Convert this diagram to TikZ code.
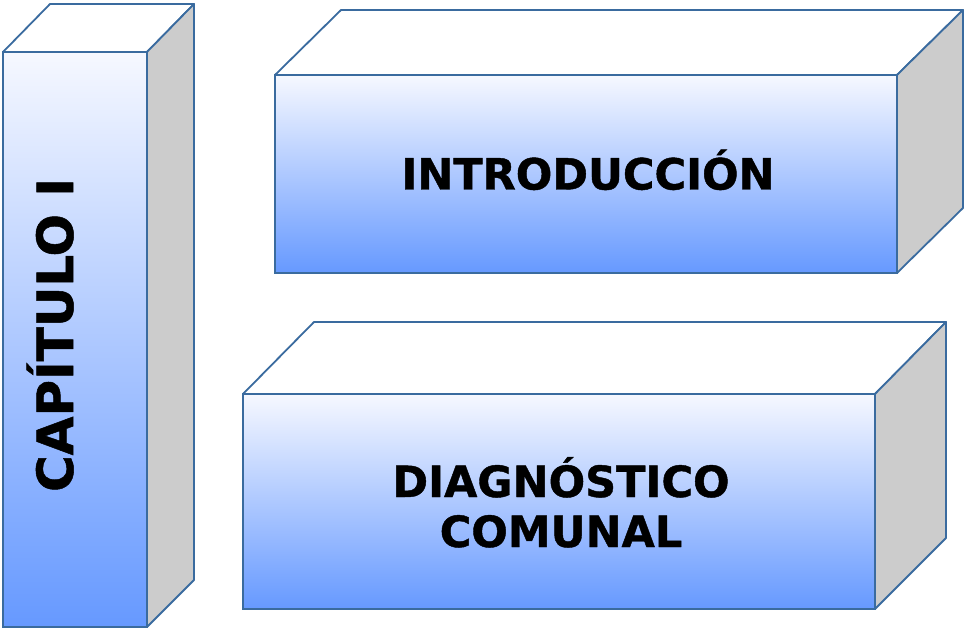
\documentclass[tikz,border=0pt]{standalone}
\usepackage{fontspec}
\setmainfont[BoldFeatures={FakeBold=1}]{DejaVu Sans}
\definecolor{edgec}{HTML}{3A6B9F}
\definecolor{topc}{HTML}{F6F8FF}
\definecolor{midc}{HTML}{C2D2FF}
\definecolor{botc}{HTML}{6699FF}
\definecolor{sidec}{HTML}{CCCCCC}
\tikzset{
  front/.style={draw=edgec, line width=1.8pt, top color=topc, middle color=midc, bottom color=botc, inner sep=0pt, outer sep=0pt},
  topface/.style={draw=edgec, line width=1.8pt, fill=white, line join=round},
  sideface/.style={draw=edgec, line width=1.8pt, fill=sidec, line join=round},
  label/.style={font=\fontsize{43}{52}\selectfont\bfseries, align=center, text=black, inner sep=0pt},
  biglabel/.style={font=\fontsize{50}{52}\selectfont\bfseries, text=black, inner sep=0pt}
}
\begin{document}
\begin{tikzpicture}[x=1pt,y=-1pt]
\useasboundingbox (0,0) rectangle (964,628);
% box 1
\node[front, minimum width=144pt, minimum height=575pt] (f1) at (75,339.5) {};
\draw[topface] (f1.north west) -- ++(47,-48) -- ++(144,0) -- (f1.north east) -- cycle;
\draw[sideface] (f1.north east) -- ++(47,-48) -- ++(0,576) -- (f1.south east) -- cycle;
\node[biglabel, rotate=90, anchor=base] (t1) at (73,335) {CAPÍTULO I};
% box 2
\node[front, minimum width=622pt, minimum height=198pt] (f2) at (586,174) {};
\draw[topface] (f2.north west) -- ++(66,-65) -- ++(622,0) -- (f2.north east) -- cycle;
\draw[sideface] (f2.north east) -- ++(66,-65) -- ++(0,198) -- (f2.south east) -- cycle;
\node[label, anchor=base] (t2) at (588,189.5) {INTRODUCCIÓN};
% box 3
\node[front, minimum width=632pt, minimum height=215pt] (f3) at (559,501.5) {};
\draw[topface] (f3.north west) -- ++(71,-72) -- ++(632,0) -- (f3.north east) -- cycle;
\draw[sideface] (f3.north east) -- ++(71,-72) -- ++(0,216) -- (f3.south east) -- cycle;
\node[label, anchor=base] (t3a) at (561,497) {DIAGNÓSTICO};
\node[label, anchor=base] (t3b) at (561,547) {COMUNAL};
\end{tikzpicture}
\end{document}
